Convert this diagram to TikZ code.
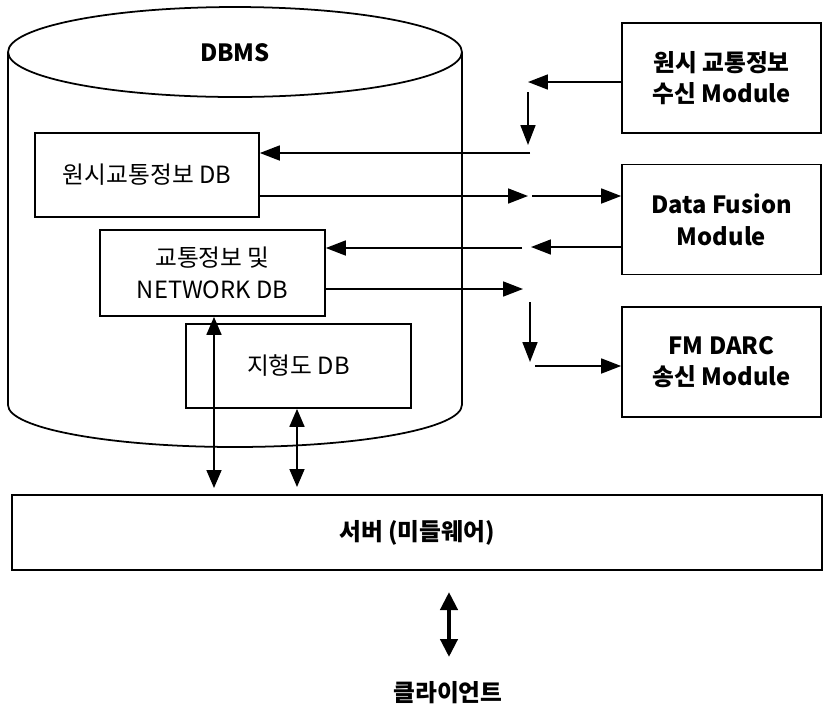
\documentclass[tikz,border=0pt]{standalone}
\usepackage{fontspec}
\setmainfont{Noto Sans CJK KR}
\usetikzlibrary{arrows.meta}
\begin{document}
\begin{tikzpicture}[x=0.02cm,y=-0.02cm,
  box/.style={draw,line width=1pt,inner sep=0pt,align=center,font=\fontsize{13.5}{18}\selectfont},
  modbox/.style={box,font=\bfseries\fontsize{13.5}{18}\selectfont,minimum width=3.98cm,minimum height=2.2cm},
  arr/.style={-{Triangle[length=4mm,width=3mm]},line width=1pt},
  darr/.style={{Triangle[length=3.6mm,width=3mm]}-{Triangle[length=3.6mm,width=3mm]},line width=1pt},
  bigarr/.style={{Triangle[length=3.6mm,width=3.4mm]}-{Triangle[length=3.6mm,width=3.4mm]},line width=2.4pt}]
\useasboundingbox (0,0) rectangle (823,708);
% DBMS 원통
\draw[line width=1pt] (235,52) ellipse [x radius=4.54cm,y radius=0.9cm];
\draw[line width=1pt] (8,52)--(8,405) arc[start angle=180,end angle=360,x radius=4.54cm,y radius=0.84cm]--(462,52);
\node[font=\bfseries\fontsize{13.5}{18}\selectfont] (dbms) at (235,53) {DBMS};
% DB
\node[box,minimum width=4.48cm,minimum height=1.68cm] (rawdb) at (147,175) {원시교통정보 DB};
\node[box,minimum width=4.5cm,minimum height=1.72cm] (netdb) at (212.5,273) {교통정보 및\\NETWORK DB};
\node[box,minimum width=4.5cm,minimum height=1.68cm] (mapdb) at (298.5,366) {지형도 DB};
% 모듈
\node[modbox] (recv) at (721.5,78) {원시 교통정보\\수신 Module};
\node[modbox] (fusion) at (721.5,219.5) {Data Fusion\\Module};
\node[modbox] (darc) at (721.5,362) {FM DARC\\송신 Module};
% 서버, 클라이언트
\node[box,font=\bfseries\fontsize{13.5}{18}\selectfont,minimum width=16.2cm,minimum height=1.5cm] (server) at (417,532.5) {서버 (미들웨어)};
\node[font=\bfseries\fontsize{13.5}{18}\selectfont] (client) at (448,693) {클라이언트};
% 빈 끝점
\coordinate (ra) at (528,82);
\coordinate (rb) at (528,92);
\coordinate (rc) at (528,145);
\coordinate (rd) at (530,153);
\coordinate (fa) at (528,196);
\coordinate (fb) at (532,196);
\coordinate (fc) at (531,247);
\coordinate (fd) at (522,248);
\coordinate (na) at (523,289);
\coordinate (nb) at (530,302);
\coordinate (nc) at (530,362);
\coordinate (nd) at (535,366);
\draw[arr] (recv.west|-ra)--(ra);
\draw[arr] (rb)--(rc);
\draw[arr] (rd)--(rawdb.east|-rd);
\draw[arr] (rawdb.east|-fa)--(fa);
\draw[arr] (fb)--(fusion.west|-fb);
\draw[arr] (fusion.west|-fc)--(fc);
\draw[arr] (fd)--(netdb.east|-fd);
\draw[arr] (netdb.east|-na)--(na);
\draw[arr] (nb)--(nc);
\draw[arr] (nd)--(darc.west|-nd);
% 서버 연결
\coordinate (sa) at (214,488);
\coordinate (sb) at (297,487);
\draw[darr] (netdb.south-|sa)--(sa);
\draw[darr] (mapdb.south-|sb)--(sb);
\coordinate (ca) at (449,592);
\coordinate (cb) at (449,657);
\draw[bigarr] (ca)--(cb);
\end{tikzpicture}
\end{document}
